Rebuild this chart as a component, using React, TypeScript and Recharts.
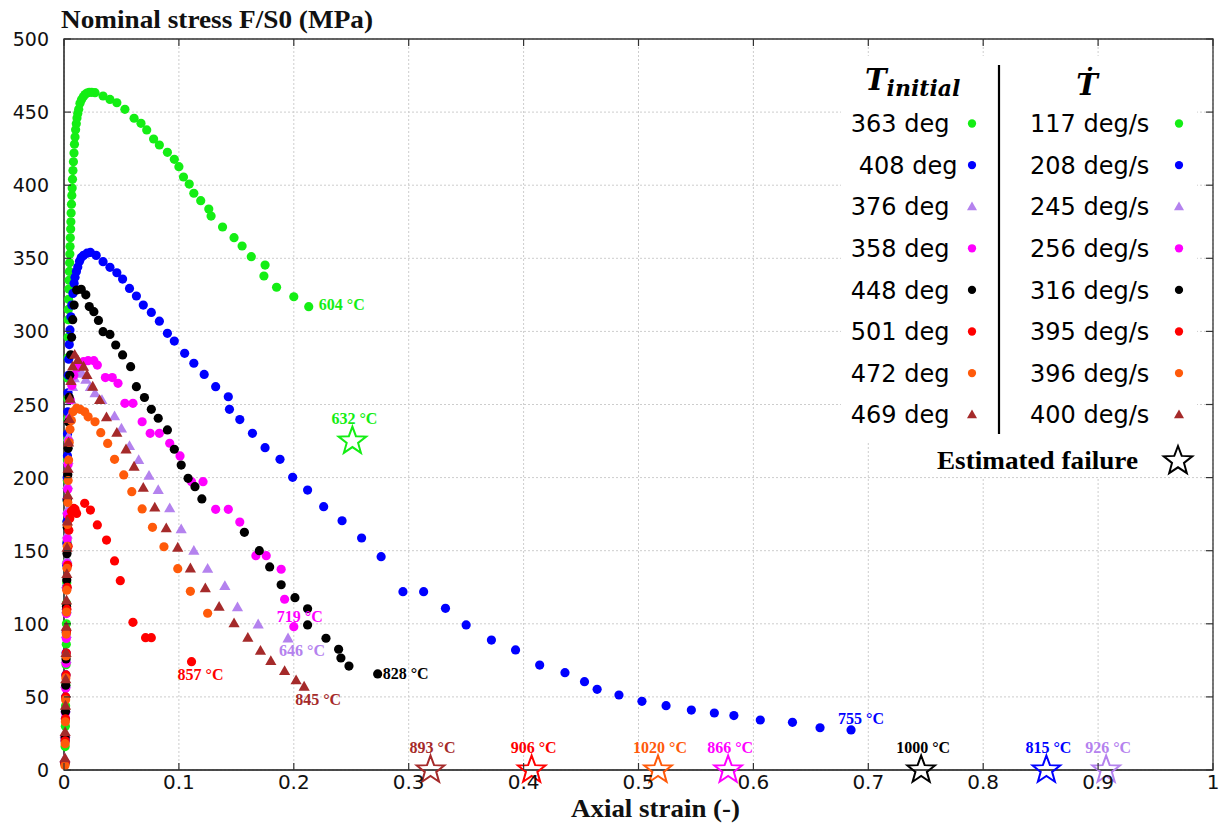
import React from 'react';
import { ScatterChart, Scatter, XAxis, YAxis, CartesianGrid, ReferenceArea } from 'recharts';

// chart is pinned at page 0,0 so these are page pixels
const W = 1224;
const H = 826;
const PLOT_LEFT = 64;
const PLOT_RIGHT = 1213;
const PLOT_TOP = 39;
const PLOT_BOTTOM = 770;
const AXIS = '#333';

const xTicks = [0, 0.1, 0.2, 0.3, 0.4, 0.5, 0.6, 0.7, 0.8, 0.9, 1];
const yTicks = [0, 50, 100, 150, 200, 250, 300, 350, 400, 450, 500];
const xMinorTicks = Array.from({ length: 51 }, (_, k) => k / 50).filter((_, k) => k % 5 !== 0);

const initialTemps = ['363 deg', '408 deg', '376 deg', '358 deg', '448 deg', '501 deg', '472 deg', '469 deg'];
const heatingRates = ['117 deg/s', '208 deg/s', '245 deg/s', '256 deg/s', '316 deg/s', '395 deg/s', '396 deg/s', '400 deg/s'];
const endTemps = ['604 °C', '755 °C', '646 °C', '719 °C', '828 °C', '857 °C', '', '845 °C'];
const failureStrain = [0.251, 0.855, 0.907, 0.578, 0.746, 0.407, 0.517, 0.319];
const failureStress = [225, 0, 0, 0, 0, 0, 0, 0];
const failureTemps = ['632 °C', '815 °C', '926 °C', '866 °C', '1000 °C', '906 °C', '1020 °C', '893 °C'];

// [axial strain, nominal stress MPa]
const green363 = [
  [0.0008, 4], [0.001, 16], [0.0012, 30], [0.0014, 44], [0.0016, 58], [0.0018, 72], [0.002, 86], [0.0021, 100],
  [0.0022, 114], [0.0024, 128], [0.0025, 142], [0.0026, 156], [0.0027, 170], [0.0028, 184], [0.0029, 198], [0.003, 212],
  [0.0031, 226], [0.0032, 240], [0.0033, 254], [0.0034, 268], [0.0035, 282], [0.0036, 296], [0.0037, 308],
  [0.0038, 315], [0.004, 322], [0.0042, 329], [0.0044, 335], [0.0047, 341], [0.0049, 347], [0.0051, 353], [0.0053, 358],
  [0.0055, 364], [0.0058, 370], [0.006, 375], [0.0062, 381], [0.0065, 387], [0.0068, 393], [0.0071, 398], [0.0074, 404],
  [0.0078, 410], [0.0082, 416], [0.0087, 422], [0.0091, 428], [0.0096, 433], [0.0101, 438], [0.0107, 442], [0.0113, 446],
  [0.012, 449], [0.0128, 452], [0.0139, 456], [0.0152, 458.5], [0.0168, 460.5], [0.0183, 462], [0.02, 463], [0.022, 463.5],
  [0.0241, 463.5], [0.027, 463.3], [0.034, 461], [0.04, 458.7], [0.046, 456.4], [0.053, 451.9], [0.061, 445.8],
  [0.067, 442.3], [0.072, 437.8], [0.078, 431.6], [0.083, 427.5], [0.09, 422.5], [0.096, 417.7], [0.1, 412.7],
  [0.104, 405.6], [0.109, 400.8], [0.113, 394.5], [0.119, 389.4], [0.126, 383.7], [0.128, 378.9], [0.138, 371.4],
  [0.148, 364.1], [0.155, 358.4], [0.163, 351.1], [0.175, 345.4], [0.174, 337.9], [0.185, 330.2], [0.2, 323.7],
  [0.213, 316.9],
];

const blue408 = [
  [0.0008, 5], [0.001, 20], [0.0012, 35], [0.0014, 50], [0.0016, 65], [0.0018, 80], [0.002, 95], [0.0021, 110],
  [0.0022, 125], [0.0024, 140], [0.0025, 155], [0.0026, 170], [0.0027, 185], [0.0028, 200], [0.003, 215], [0.0031, 230],
  [0.0033, 245], [0.0035, 258], [0.0038, 270], [0.0041, 281], [0.0046, 291], [0.0052, 301], [0.006, 310], [0.0068, 318],
  [0.0078, 326], [0.0088, 333], [0.0096, 337], [0.0108, 341], [0.012, 344], [0.0135, 348], [0.015, 350.5], [0.017, 352],
  [0.02, 353.5], [0.023, 354], [0.028, 352], [0.034, 347.7], [0.04, 343.8], [0.046, 340.1], [0.051, 335.8],
  [0.057, 329.4], [0.063, 324.2], [0.069, 318], [0.076, 313], [0.083, 307], [0.09, 298.7], [0.096, 293.4], [0.105, 285],
  [0.113, 278.2], [0.122, 270.6], [0.132, 262.2], [0.143, 255.3], [0.144, 246.7], [0.153, 239.7], [0.164, 230.3],
  [0.175, 220.5], [0.188, 212.5], [0.199, 200.2], [0.212, 191.5], [0.226, 180.1], [0.242, 170.5], [0.259, 158.7],
  [0.276, 145.9], [0.295, 122], [0.313, 122], [0.332, 110.6], [0.35, 99.2], [0.372, 88.9], [0.393, 82.1], [0.414, 71.8],
  [0.436, 66.6], [0.453, 60.4], [0.464, 55.2], [0.483, 51.3], [0.503, 47], [0.524, 44], [0.546, 41], [0.566, 39],
  [0.583, 37.2], [0.606, 34.2], [0.634, 32.6], [0.658, 28.9], [0.685, 27.4],
];

const lavender376 = [
  [0.0008, 8], [0.001, 25], [0.0013, 42], [0.0015, 59], [0.0018, 76], [0.002, 93], [0.0022, 110], [0.0024, 127],
  [0.0026, 144], [0.0028, 161], [0.003, 178], [0.0032, 195], [0.0035, 212], [0.004, 228], [0.0048, 242], [0.006, 253],
  [0.0075, 262], [0.009, 268], [0.011, 272], [0.013, 274], [0.016, 271], [0.019, 267], [0.023, 262], [0.027, 257.7],
  [0.033, 253], [0.044, 242], [0.05, 233.5], [0.057, 221.6], [0.065, 212], [0.074, 201.3], [0.082, 191.5], [0.092, 179],
  [0.102, 164.6], [0.113, 150], [0.125, 137.7], [0.14, 125.9], [0.151, 111.3], [0.169, 99.6], [0.195, 90],
];

const magenta358 = [
  [0.0008, 5], [0.001, 22], [0.0013, 39], [0.0015, 56], [0.0018, 73], [0.002, 90], [0.0022, 107], [0.0024, 124],
  [0.0026, 141], [0.0028, 158], [0.003, 175], [0.0033, 192], [0.0036, 209], [0.004, 225], [0.0046, 240], [0.0055, 253],
  [0.0068, 263], [0.0085, 270], [0.011, 275], [0.014, 278], [0.017, 279.3], [0.021, 280], [0.026, 280], [0.029, 277],
  [0.036, 268.4], [0.042, 268.4], [0.047, 264.5], [0.053, 250.8], [0.06, 250.8], [0.068, 238.2], [0.075, 230.3],
  [0.083, 230.3], [0.092, 223.5], [0.101, 214.8], [0.111, 197.2], [0.121, 197.2], [0.132, 178.3], [0.143, 178.3],
  [0.153, 169.6], [0.167, 146.6], [0.176, 146.6], [0.189, 137.3], [0.192, 116.8], [0.2, 98],
];

const black448 = [
  [0.0008, 5], [0.001, 22], [0.0013, 40], [0.0015, 58], [0.0018, 76], [0.002, 94], [0.0022, 112], [0.0024, 130],
  [0.0026, 148], [0.0028, 166], [0.003, 184], [0.0033, 202], [0.0036, 220], [0.004, 238], [0.0045, 255], [0.005, 270],
  [0.0058, 284], [0.0066, 296], [0.0076, 308], [0.0088, 318], [0.011, 328.3], [0.015, 328.8], [0.019, 325], [0.022, 317],
  [0.026, 313.5], [0.03, 307.5], [0.034, 299.8], [0.04, 297.9], [0.045, 290.7], [0.051, 283.9], [0.058, 275.9],
  [0.063, 262.2], [0.07, 254.8], [0.076, 246.7], [0.082, 240.6], [0.09, 232.6], [0.096, 219.4], [0.102, 208.6],
  [0.108, 199.5], [0.114, 193.8], [0.12, 185.4], [0.157, 162.6], [0.17, 150], [0.179, 138.9], [0.189, 126.7],
  [0.201, 117.9], [0.212, 110.3], [0.212, 99.2], [0.228, 90.1], [0.239, 82.6], [0.241, 76.6], [0.248, 71.1], [0.273, 65.7],
];

const red501 = [
  [0.0008, 5], [0.001, 20], [0.0013, 35], [0.0015, 50], [0.0018, 65], [0.002, 80], [0.0022, 95], [0.0025, 110],
  [0.0028, 125], [0.0032, 140], [0.0036, 153], [0.0042, 164], [0.005, 172], [0.0065, 177], [0.0085, 179], [0.0096, 178.3],
  [0.011, 175.5], [0.018, 182.4], [0.023, 177.8], [0.029, 167.6], [0.037, 157.3], [0.044, 143], [0.049, 129.5],
  [0.06, 101], [0.071, 90.5], [0.076, 90.5], [0.111, 74.1],
];

const orange472 = [
  [0.0008, 3], [0.001, 18], [0.0012, 33], [0.0014, 48], [0.0016, 63], [0.0018, 78], [0.002, 93], [0.0022, 108],
  [0.0024, 123], [0.0026, 138], [0.0028, 153], [0.003, 168], [0.0033, 183], [0.0036, 198], [0.004, 212], [0.0045, 224],
  [0.0052, 233], [0.0064, 239], [0.0078, 245], [0.011, 247.5], [0.014, 246.7], [0.018, 245], [0.021, 241.6],
  [0.027, 238.2], [0.032, 230.7], [0.038, 223.4], [0.044, 212.5], [0.052, 201.8], [0.059, 190.4], [0.068, 178.6],
  [0.077, 166], [0.087, 152.7], [0.099, 137.7], [0.11, 122.2], [0.125, 107.2],
];

const brown469 = [
  [0.0008, 8], [0.001, 26], [0.0013, 44], [0.0015, 62], [0.0018, 80], [0.002, 98], [0.0022, 116], [0.0025, 134],
  [0.0027, 152], [0.003, 170], [0.0033, 188], [0.0036, 206], [0.004, 224], [0.0045, 240], [0.0052, 254], [0.006, 266],
  [0.0075, 276], [0.0093, 284], [0.012, 280.4], [0.017, 275.9], [0.02, 270.2], [0.025, 262.2], [0.031, 253],
  [0.037, 241.2], [0.046, 230.7], [0.054, 219.3], [0.061, 207.5], [0.069, 193.1], [0.079, 179.5], [0.089, 165.3],
  [0.099, 152.1], [0.11, 137.9], [0.123, 124.3], [0.135, 111.7], [0.148, 100.3], [0.16, 90.5], [0.171, 81.6],
  [0.18, 74.6], [0.192, 67.7], [0.202, 61.4], [0.209, 57],
];

const SERIES_POINTS = [green363, blue408, lavender376, magenta358, black448, red501, orange472, brown469];
const COLORS = ['#14ee14', '#0000ff', '#b482ee', '#ff00ff', '#000000', '#ff0000', '#ff5a0a', '#a52a2a'];
const MARKERS = ['circle', 'circle', 'triangle', 'circle', 'circle', 'circle', 'circle', 'triangle'];
// where each end-of-curve temperature sits relative to the last point
const END_OFFSETS: { dx: number; dy: number; anchor: 'start' | 'middle' }[] = [
  { dx: 10, dy: -2, anchor: 'start' },
  { dx: 10, dy: -11, anchor: 'middle' },
  { dx: 14, dy: 13, anchor: 'middle' },
  { dx: 6, dy: -10, anchor: 'middle' },
  { dx: 5, dy: 0, anchor: 'start' },
  { dx: 9, dy: 13, anchor: 'middle' },
  { dx: 0, dy: 0, anchor: 'middle' },
  { dx: 14, dy: 13, anchor: 'middle' },
];
const LEGEND_NUDGE = [0, 8, 0, 0, 0, 0, 0, 0];

const SERIF = '"Liberation Serif", "Times New Roman", serif';
const SANS = '"DejaVu Sans", sans-serif';

const starPoints = (cx: number, cy: number, R: number, r: number) => {
  const pts: string[] = [];
  for (let k = 0; k < 10; k++) {
    const rad = k % 2 === 0 ? R : r;
    const a = -Math.PI / 2 + (k * Math.PI) / 5;
    pts.push(`${cx + rad * Math.cos(a)},${cy + rad * Math.sin(a)}`);
  }
  return pts.join(' ');
};

const Marker = ({ kind, cx, cy, color, s = 1 }: any) =>
  kind === 'triangle' ? (
    <polygon
      points={`${cx},${cy - 5.8 * s} ${cx - 5.6 * s},${cy + 4 * s} ${cx + 5.6 * s},${cy + 4 * s}`}
      fill={color}
    />
  ) : (
    <circle cx={cx} cy={cy} r={4.6 * s} fill={color} />
  );

const fmtX = (v: number) => (v === 0 ? '0' : v === 1 ? '1' : v.toFixed(1));

const XTick = (props: any) => {
  const { x, payload } = props;
  return (
    <g>
      <line x1={x} x2={x} y1={PLOT_BOTTOM} y2={PLOT_BOTTOM - 7} stroke={AXIS} strokeWidth={1.2} />
      <line x1={x} x2={x} y1={PLOT_TOP} y2={PLOT_TOP + 7} stroke={AXIS} strokeWidth={1.2} />
      <text x={x} y={PLOT_BOTTOM + 19} textAnchor="middle" fontFamily={SANS} fontSize={20} fill="#111">
        {fmtX(payload.value)}
      </text>
    </g>
  );
};

const MinorTick = (props: any) => {
  const { x } = props;
  return (
    <g>
      <line x1={x} x2={x} y1={PLOT_BOTTOM} y2={PLOT_BOTTOM - 4} stroke={AXIS} strokeWidth={1} />
      <line x1={x} x2={x} y1={PLOT_TOP} y2={PLOT_TOP + 4} stroke={AXIS} strokeWidth={1} />
    </g>
  );
};

const YTick = (props: any) => {
  const { y, payload } = props;
  return (
    <g>
      <line x1={PLOT_LEFT} x2={PLOT_LEFT + 7} y1={y} y2={y} stroke={AXIS} strokeWidth={1.2} />
      <line x1={PLOT_RIGHT} x2={PLOT_RIGHT - 7} y1={y} y2={y} stroke={AXIS} strokeWidth={1.2} />
      <text x={PLOT_LEFT - 15} y={y + 7} textAnchor="end" fontFamily={SANS} fontSize={19} fill="#111">
        {payload.value}
      </text>
    </g>
  );
};

const seriesData = SERIES_POINTS.map((pts) => pts.map(([x, y]) => ({ x, y })));

const failureData = failureStrain.map((x, i) => ({ x, y: failureStress[i], i }));

const endLabelData = SERIES_POINTS.map((pts, i) => ({ x: pts[pts.length - 1][0], y: pts[pts.length - 1][1], i })).filter(
  (d) => endTemps[d.i] !== ''
);

const FailureStar = (props: any) => {
  const { cx, cy, payload } = props;
  const c = COLORS[payload.i];
  return (
    <g>
      <polygon points={starPoints(cx, cy, 14.5, 6)} fill="none" stroke={c} strokeWidth={2} />
      <text x={cx + 2} y={cy - 17} textAnchor="middle" fontFamily={SERIF} fontWeight="bold" fontSize={16} fill={c}>
        {failureTemps[payload.i]}
      </text>
    </g>
  );
};

const EndLabel = (props: any) => {
  const { cx, cy, payload } = props;
  const o = END_OFFSETS[payload.i];
  return (
    <text
      x={cx + o.dx}
      y={cy + o.dy + 5}
      textAnchor={o.anchor}
      fontFamily={SERIF}
      fontWeight="bold"
      fontSize={16}
      fill={COLORS[payload.i]}
    >
      {endTemps[payload.i]}
    </text>
  );
};

const Overlay = () => {
  const rowY = (k: number) => 123.5 + k * 41.6;
  return (
    <svg width={W} height={H} style={{ position: 'absolute', left: 0, top: 0, pointerEvents: 'none' }}>
      <text x={61} y={28} fontFamily={SERIF} fontWeight="bold" fontSize={25} textLength={312} lengthAdjust="spacingAndGlyphs" fill="#111">
        Nominal stress F/S0 (MPa)
      </text>
      <text x={571} y={817} fontFamily={SERIF} fontWeight="bold" fontSize={25} textLength={169} lengthAdjust="spacingAndGlyphs" fill="#111">
        Axial strain (-)
      </text>

      <rect x={841} y={56} width={356} height={385} fill="#fff" />
      <rect x={874} y={441} width={323} height={36} fill="#fff" />

      <text x={865} y={90} fontFamily='"DejaVu Serif", serif' fontWeight="bold" fontStyle="italic" fontSize={29} fill="#000">
        T
        <tspan fontSize={22} dy={6}>
          initial
        </tspan>
      </text>
      <text x={1087} y={95} textAnchor="middle" fontFamily='"DejaVu Serif", serif' fontWeight="bold" fontStyle="italic" fontSize={29} fill="#000">
        Ṫ
      </text>
      <line x1={999} x2={999} y1={65} y2={434} stroke="#000" strokeWidth={2.2} />

      {initialTemps.map((t, k) => (
        <g key={t}>
          <text x={949.5 + LEGEND_NUDGE[k]} y={rowY(k) + 8.7} textAnchor="end" fontFamily={SANS} fontSize={24} fill="#000">
            {t}
          </text>
          <Marker kind={MARKERS[k]} cx={972} cy={rowY(k)} color={COLORS[k]} s={0.9} />
          <text x={1030} y={rowY(k) + 8.7} fontFamily={SANS} fontSize={24} fill="#000">
            {heatingRates[k]}
          </text>
          <Marker kind={MARKERS[k]} cx={1179} cy={rowY(k)} color={COLORS[k]} s={0.9} />
        </g>
      ))}

      <text x={937} y={469} fontFamily={SERIF} fontWeight="bold" fontSize={26} textLength={201} lengthAdjust="spacingAndGlyphs" fill="#000">
        Estimated failure
      </text>
      <polygon points={starPoints(1178, 461, 15, 6.3)} fill="none" stroke="#000" strokeWidth={2} />
    </svg>
  );
};

export default function App() {
  return (
    <div style={{ position: 'absolute', left: 0, top: 0, width: W, height: H, background: '#fff' }}>
      <ScatterChart width={W} height={H} margin={{ top: 39, right: 11, bottom: 26, left: 14 }}>
        <CartesianGrid stroke="#cdcdcd" strokeDasharray="2 2" />
        <XAxis
          type="number"
          dataKey="x"
          domain={[0, 1]}
          ticks={xTicks}
          interval={0}
          tickLine={false}
          axisLine={{ stroke: AXIS }}
          tick={(p: any) => <XTick {...p} />}
          height={30}
        />
        <XAxis
          xAxisId="minor"
          type="number"
          dataKey="x"
          domain={[0, 1]}
          ticks={xMinorTicks}
          interval={0}
          tickLine={false}
          axisLine={false}
          tick={(p: any) => <MinorTick {...p} />}
          height={0}
        />
        <YAxis
          type="number"
          dataKey="y"
          domain={[0, 500]}
          ticks={yTicks}
          interval={0}
          tickLine={false}
          axisLine={{ stroke: AXIS }}
          tick={(p: any) => <YTick {...p} />}
          width={50}
        />
        <ReferenceArea x1={0} x2={1} y1={0} y2={500} fill="none" stroke={AXIS} strokeWidth={1.3} />
        {seriesData.map((d, i) => (
          <Scatter
            key={initialTemps[i]}
            name={initialTemps[i]}
            data={d}
            isAnimationActive={false}
            shape={(p: any) => <Marker kind={MARKERS[i]} cx={p.cx} cy={p.cy} color={COLORS[i]} />}
          />
        ))}
        <Scatter name="failure" data={failureData} isAnimationActive={false} shape={(p: any) => <FailureStar {...p} />} />
        <Scatter name="end" data={endLabelData} isAnimationActive={false} shape={(p: any) => <EndLabel {...p} />} />
      </ScatterChart>
      <Overlay />
    </div>
  );
}
